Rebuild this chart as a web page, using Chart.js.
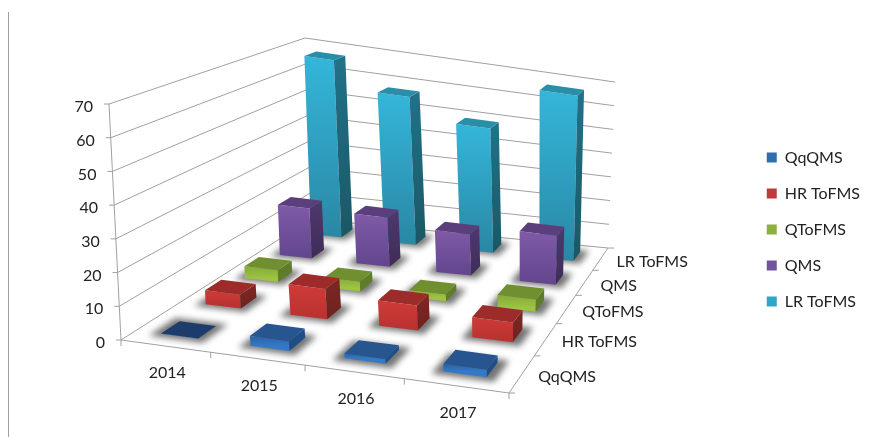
<!DOCTYPE html>
<html>
<head>
<meta charset="utf-8">
<title>3D bars</title>
<script src="https://cdn.jsdelivr.net/npm/chart.js@4"></script>
<style>
  html, body { margin: 0; padding: 0; background: #fff; }
  #wrap { position: relative; width: 878px; height: 437px; overflow: hidden; }
  #rule { position: absolute; left: 8px; top: 12px; bottom: 0; width: 1px; background: #a0a0a0; }
</style>
</head>
<body>
<div id="wrap">
  <canvas id="chart" width="878" height="437"></canvas>
  <div id="rule"></div>
</div>
<script>
// ── Data ──
const years = ["2014", "2015", "2016", "2017"];
const seriesNames = ["QqQMS", "HR ToFMS", "QToFMS", "QMS", "LR ToFMS"];
const qqQms = [0.1, 3, 1.5, 2.5];
const hrTof = [4.5, 10, 8.5, 7];
const qTof = [4, 3.5, 2.5, 4.5];
const qms = [18, 18, 15.5, 19];
const lrTof = [67, 57, 49, 67];
const yTicks = { min: 0, max: 70, stepSize: 10 };

// ── Colours ──  [legend, front top, front bottom, roof, side top, side bottom]
const blue = ["#2f6db0", "#2a62a6", "#3279c8", "#27558f", "#1f4e86", "#1f4e86"];
const red = ["#c0393b", "#cf3b38", "#bb3331", "#9c2b2a", "#7d2725", "#6f2220"];
const green = ["#8cb03e", "#86aa38", "#9cc342", "#6f8f30", "#5f7c2a", "#5f7c2a"];
const purple = ["#71549b", "#7f5aa8", "#64478e", "#5a3f7c", "#4f386d", "#3f2c58"];
const teal = ["#2fa6c6", "#34b6da", "#2a88a5", "#2a8ea8", "#217289", "#1b5766"];
const palette = [blue, red, green, purple, teal];
const flatRoof = "#1c3d6b"; // a bar with next to no height looks darker

// ── Projection of the plot box (front left, front right, back right, back left) ──
const floorQuad = [[121, 340], [509, 393], [608, 248], [311, 219]];
const roofQuad = [[109, 104], [514, 186], [615, 82], [305, 38]];
const barShareX = 0.42;
const barShareZ = 0.4;

function homography(q) {
  const [p0, p1, p2, p3] = q;
  const dx1 = p1[0] - p2[0], dx2 = p3[0] - p2[0], sx = p0[0] - p1[0] + p2[0] - p3[0];
  const dy1 = p1[1] - p2[1], dy2 = p3[1] - p2[1], sy = p0[1] - p1[1] + p2[1] - p3[1];
  const den = dx1 * dy2 - dx2 * dy1;
  const g = (sx * dy2 - dx2 * sy) / den;
  const h = (dx1 * sy - sx * dy1) / den;
  const a = p1[0] - p0[0] + g * p1[0], b = p3[0] - p0[0] + h * p3[0];
  const d = p1[1] - p0[1] + g * p1[1], e = p3[1] - p0[1] + h * p3[1];
  return (u, v) => {
    const k = g * u + h * v + 1;
    return [(a * u + b * v + p0[0]) / k, (d * u + e * v + p0[1]) / k];
  };
}
const floorAt = homography(floorQuad);
const roofAt = homography(roofQuad);

function project(u, v, w) {
  const f = floorAt(u, v), t = roofAt(u, v);
  return [f[0] + (t[0] - f[0]) * w, f[1] + (t[1] - f[1]) * w];
}

function poly(ctx, pts) {
  ctx.beginPath();
  pts.forEach((p, i) => i ? ctx.lineTo(p[0], p[1]) : ctx.moveTo(p[0], p[1]));
  ctx.closePath();
}

function segment(ctx, a, b) {
  ctx.beginPath();
  ctx.moveTo(a[0], a[1]);
  ctx.lineTo(b[0], b[1]);
  ctx.stroke();
}

// normalised positions
const uOf = (s, i) => (s.getPixelForValue(i) - s.left) / s.width;
const vOf = (s, j) => (s.getPixelForValue(j) - s.top) / s.height;
const wOf = (s, val) => (s.bottom - s.getPixelForValue(val)) / s.height;

function drawWalls(ctx, chart) {
  const { x, y, z } = chart.scales;
  ctx.lineWidth = 1;
  ctx.strokeStyle = "#a0a0a0";
  y.ticks.forEach(t => {
    const w = wOf(y, t.value);
    const a = project(0, 0, w), b = project(0, 1, w), c = project(1, 1, w);
    segment(ctx, a, b);
    segment(ctx, b, c);
    segment(ctx, [a[0] - 5, a[1]], a); // tick
  });
  segment(ctx, project(0, 0, 0), project(0, 0, 1));
  segment(ctx, project(0, 0, 0), project(1, 0, 0));
  segment(ctx, project(1, 0, 0), project(1, 1, 0));
  for (let i = 0; i <= years.length; i++) {
    const p = project(i / years.length, 0, 0);
    segment(ctx, p, [p[0], p[1] + 6]);
  }
  for (let j = 0; j <= seriesNames.length; j++) {
    const p = project(1, j / seriesNames.length, 0);
    segment(ctx, p, [p[0] + 6, p[1]]);
  }

  // axis labels
  ctx.fillStyle = "#222";
  ctx.font = "16px Lato";
  ctx.textBaseline = "middle";
  ctx.textAlign = "right";
  y.ticks.forEach(t => {
    const p = project(0, 0, wOf(y, t.value));
    ctx.fillText(String(t.value), p[0] - 16, p[1] + 3);
  });
  ctx.textAlign = "center";
  years.forEach((label, i) => {
    const p = project(uOf(x, i), 0, 0);
    ctx.fillText(label, p[0] + 2, p[1] + 27);
  });
  ctx.textAlign = "left";
  seriesNames.forEach((label, j) => {
    const p = project(1, vOf(z, j), 0);
    ctx.fillText(label, p[0] + 16, p[1] + 3);
  });
}

function drawBar(ctx, u, v, du, dv, w, c) {
  const u0 = u - du / 2, u1 = u + du / 2, v0 = v - dv / 2, v1 = v + dv / 2;
  const a = project(u0, v0, 0), b = project(u1, v0, 0), e = project(u1, v1, 0), h = project(u0, v1, 0);
  const at = project(u0, v0, w), bt = project(u1, v0, w), et = project(u1, v1, w), ht = project(u0, v1, w);

  // soft shadow on the floor, a little wider than the bar
  const sx = du * 0.22, sz = dv * 0.22;
  ctx.save();
  ctx.filter = "blur(3px)";
  ctx.fillStyle = "rgba(0,0,0,0.55)";
  poly(ctx, [project(u0 - sx, v0 - sz, 0), project(u1 + sx, v0 - sz, 0), project(u1 + sx, v1 + sz, 0), project(u0 - sx, v1 + sz, 0)]);
  ctx.fill();
  ctx.restore();

  const front = ctx.createLinearGradient(0, at[1], 0, a[1]);
  front.addColorStop(0, c[1]);
  front.addColorStop(1, c[2]);
  ctx.fillStyle = front;
  poly(ctx, [a, b, bt, at]);
  ctx.fill();

  const side = ctx.createLinearGradient(0, et[1], 0, b[1]);
  side.addColorStop(0, c[4]);
  side.addColorStop(1, c[5]);
  ctx.fillStyle = side;
  poly(ctx, [b, e, et, bt]);
  ctx.fill();

  ctx.fillStyle = w < 0.005 ? flatRoof : c[3];
  poly(ctx, [at, bt, et, ht]);
  ctx.fill();
}

const bars3d = {
  id: "bars3d",
  beforeDatasetsDraw(chart) {
    const ctx = chart.ctx;
    const { x, y, z } = chart.scales;
    ctx.save();
    drawWalls(ctx, chart);
    const du = barShareX / years.length, dv = barShareZ / seriesNames.length;
    // painter's order: back row first
    for (let j = seriesNames.length - 1; j >= 0; j--) {
      chart.data.datasets[j].data.forEach((val, i) => {
        drawBar(ctx, uOf(x, i), vOf(z, j), du, dv, wOf(y, val), palette[j]);
      });
    }
    ctx.restore();
    return false; // the flat bars are replaced by the boxes above
  }
};

new Chart(document.getElementById("chart"), {
  type: "bar",
  data: {
    labels: years,
    datasets: [qqQms, hrTof, qTof, qms, lrTof].map((values, j) => ({
      label: seriesNames[j],
      data: values,
      backgroundColor: palette[j][0]
    }))
  },
  plugins: [bars3d],
  options: {
    responsive: false,
    animation: false,
    layout: { padding: { top: 22, right: 8 } },
    plugins: {
      tooltip: { enabled: false },
      legend: {
        position: "right",
        labels: {
          boxWidth: 10,
          boxHeight: 10,
          padding: 20,
          color: "#222",
          font: { family: "Lato", size: 16 }
        }
      }
    },
    scales: {
      x: { display: false },
      y: { display: false, min: yTicks.min, max: yTicks.max, ticks: { stepSize: yTicks.stepSize } },
      z: { type: "category", axis: "y", labels: seriesNames, offset: true, display: false }
    }
  }
});
</script>
</body>
</html>
